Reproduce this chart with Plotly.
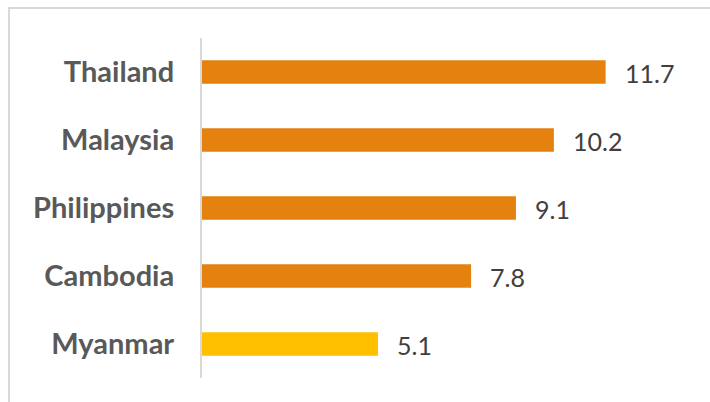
import plotly.graph_objects as go

countries = ["Thailand", "Malaysia", "Philippines", "Cambodia", "Myanmar"]
values = [11.7, 10.2, 9.1, 7.8, 5.1]
bar_colors = ["#E5820F", "#E5820F", "#E5820F", "#E5820F", "#FFC000"]
value_labels = ["11.7", "10.2", "9.1", "7.8", "5.1"]

W, H = 710, 402
L, R, T, B = 202, 25, 38, 24
pw = W - L - R
ph = H - T - B

fig = go.Figure()
fig.add_trace(go.Bar(
    x=values, y=countries, orientation="h",
    marker=dict(color=bar_colors, line=dict(width=0)),
    hoverinfo="skip",
))

for c, v, t in zip(countries, values, value_labels):
    fig.add_annotation(x=v, y=c, text=t, showarrow=False, xanchor="left",
                       xshift=17, yshift=-1,
                       font=dict(family="Lato", size=25, color="#404040"))

# outer chart border (left and top visible)
fig.add_shape(type="rect", xref="paper", yref="paper",
              x0=(9 - L) / pw, x1=(W + 20 - L) / pw,
              y0=-(H + 20 - (H - B)) / ph, y1=1 + (T - 8) / ph,
              line=dict(color="#D9D9D9", width=2), fillcolor="rgba(0,0,0,0)", layer="below")

fig.update_layout(
    width=W, height=H,
    margin=dict(l=L, r=R, t=T, b=B),
    paper_bgcolor="white", plot_bgcolor="white",
    bargap=0.655,
    showlegend=False,
    xaxis=dict(range=[0, 14], visible=False, fixedrange=True),
    yaxis=dict(autorange="reversed", showline=True, linecolor="#D9D9D9", linewidth=2,
               showgrid=False, zeroline=False, ticks="",
               ticklabelstandoff=20,
               tickfont=dict(family="Lato", size=29, color="#595959", weight="bold")),
)

fig.write_html("out.html")
